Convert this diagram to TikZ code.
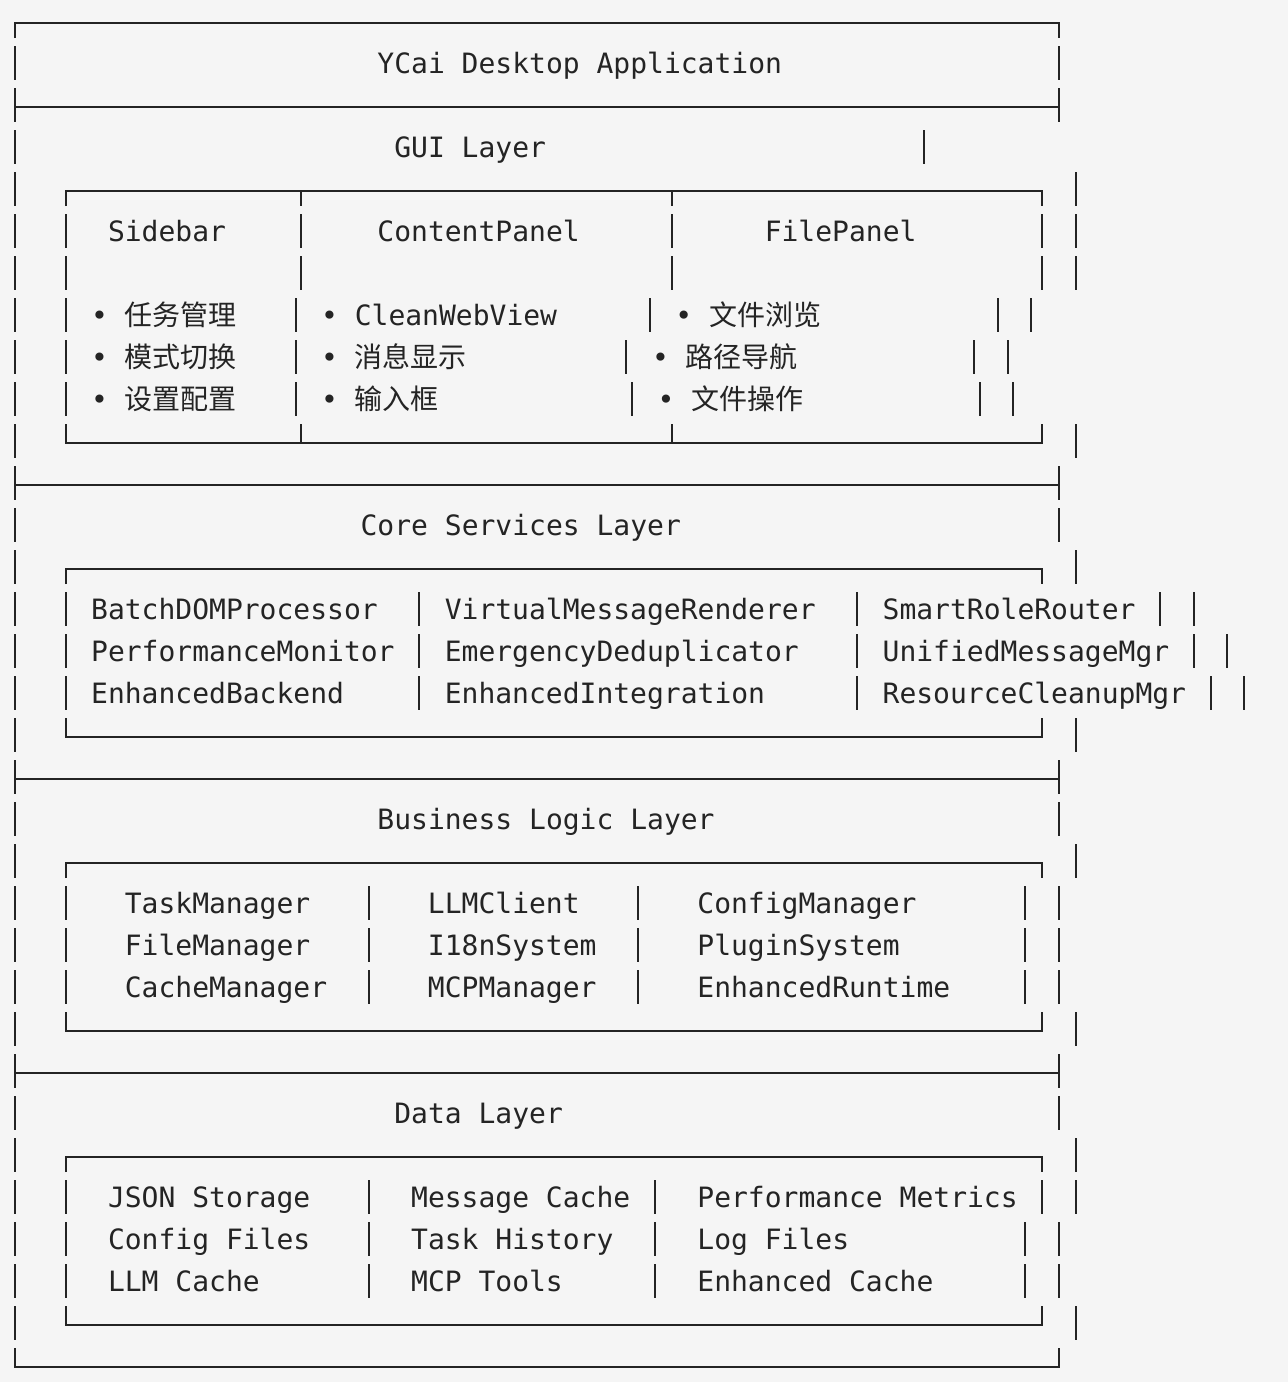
\documentclass[tikz,border=0pt]{standalone}
\usepackage{fontspec}
\setmonofont{DejaVu Sans Mono}
\newfontfamily\cjkfont{Noto Sans CJK SC}
\newcommand{\zh}[1]{{\cjkfont #1}}
\definecolor{paper}{HTML}{F5F5F5}
\definecolor{ink}{HTML}{242424}

\begin{document}
\begin{tikzpicture}[x=0.5pt,y=-0.5pt,
    declare function={cx(\i)=15+16.84*\i; lx(\i)=6.58+16.84*\i;
                      cy(\j)=21+42*\j; by(\j)=31+42*\j;},
    box line/.style={draw=ink,line width=1pt},
    label node/.style={anchor=base west,inner sep=0pt,text=ink,
                       font=\fontsize{14pt}{17pt}\selectfont\ttfamily}]

  \fill[paper] (0,0) rectangle (1288,1382);
  \useasboundingbox (0,0) rectangle (1288,1382);

  % outer frame and layer rules
  \draw[box line] ({cx(0)},{cy(0)+17}) |- ({cx(62)},{cy(0)+1.7}) -- ({cx(62)},{cy(0)+17});
  \draw[box line] ({cx(0)},{cy(32)-17}) |- ({cx(62)},{cy(32)+1.7}) -- ({cx(62)},{cy(32)-17});
  \foreach \r in {2,11,18,25}
    \draw[box line] ({cx(0)},{cy(\r)+1.7}) -- ({cx(62)},{cy(\r)+1.7});

  % inner boxes
  \foreach \r in {4,13,20,27}
    \draw[box line] ({cx(3)},{cy(\r)+17}) |- ({cx(61)},{cy(\r)+1.7}) -- ({cx(61)},{cy(\r)+17});
  \foreach \r in {10,17,24,31}
    \draw[box line] ({cx(3)},{cy(\r)-17}) |- ({cx(61)},{cy(\r)+1.7}) -- ({cx(61)},{cy(\r)-17});
  \foreach \c in {17,39} {
    \draw[box line] ({cx(\c)},{cy(4)+1.7}) -- ({cx(\c)},{cy(4)+17});
    \draw[box line] ({cx(\c)},{cy(10)-17}) -- ({cx(\c)},{cy(10)+1.7});
  }

  % vertical bars, one per text row
  \foreach \c/\rows in {0/{1,...,31}, 62/{1,2,11,12,18,19,21,22,23,25,26,29,30},
      54/{3}, 63/{4,5,6,10,13,17,20,24,27,28,31},
      3/{5,6,7,8,9,14,15,16,21,22,23,28,29,30}, 61/{5,6,28},
      17/{5,6}, 39/{5,6}, 24/{14,15,16}, 50/{14,15,16},
      68/{14}, 70/{14,15}, 72/{15}, 71/{16}, 73/{16},
      21/{21,22,23,28,29,30}, 37/{21,22,23}, 38/{28,29,30}, 60/{21,22,23,29,30}}
    \foreach \r in \rows
      \draw[box line] ({cx(\c)},{cy(\r)-17}) -- ({cx(\c)},{cy(\r)+17});
  \foreach \x/\r in {295.5/7, 295.5/8, 295.5/9, 649.8/7, 626.4/8, 632/9,
      997.7/7, 1031.4/7, 974.1/8, 1007.8/8, 979.7/9, 1013.4/9}
    \draw[box line] (\x,{cy(\r)-17}) -- (\x,{cy(\r)+17});

  % layer titles
  \node[label node] (app)  at ({lx(22)},{by(1)})  {YCai Desktop Application};
  \node[label node] (gui)  at ({lx(23)},{by(3)})  {GUI Layer};
  \node[label node] (core) at ({lx(21)},{by(12)}) {Core Services Layer};
  \node[label node] (biz)  at ({lx(22)},{by(19)}) {Business Logic Layer};
  \node[label node] (data) at ({lx(23)},{by(26)}) {Data Layer};

  % panels and components
  \foreach \c/\r/\t in {6/5/Sidebar, 22/5/ContentPanel, 45/5/FilePanel,
      5/14/BatchDOMProcessor, 26/14/VirtualMessageRenderer, 52/14/SmartRoleRouter,
      5/15/PerformanceMonitor, 26/15/EmergencyDeduplicator, 52/15/UnifiedMessageMgr,
      5/16/EnhancedBackend, 26/16/EnhancedIntegration, 52/16/ResourceCleanupMgr,
      7/21/TaskManager, 25/21/LLMClient, 41/21/ConfigManager,
      7/22/FileManager, 25/22/I18nSystem, 41/22/PluginSystem,
      7/23/CacheManager, 25/23/MCPManager, 41/23/EnhancedRuntime,
      6/28/JSON Storage, 24/28/Message Cache, 41/28/Performance Metrics,
      6/29/Config Files, 24/29/Task History, 41/29/Log Files,
      6/30/LLM Cache, 24/30/MCP Tools, 41/30/Enhanced Cache}
    \node[label node] (item-\r-\c) at ({lx(\c)},{by(\r)}) {\t};

  % bullet lists of the GUI panels
  \foreach \x/\r/\t [count=\n] in {90.8/7/\zh{任务管理}, 90.8/8/\zh{模式切换}, 90.8/9/\zh{设置配置},
      320.7/7/CleanWebView, 320.7/8/\zh{消息显示}, 320.7/9/\zh{输入框},
      675/7/\zh{文件浏览}, 651.6/8/\zh{路径导航}, 657.2/9/\zh{文件操作}}
    \node[label node] (bullet\n) at (\x,{by(\r)}) {• \t};
\end{tikzpicture}
\end{document}
